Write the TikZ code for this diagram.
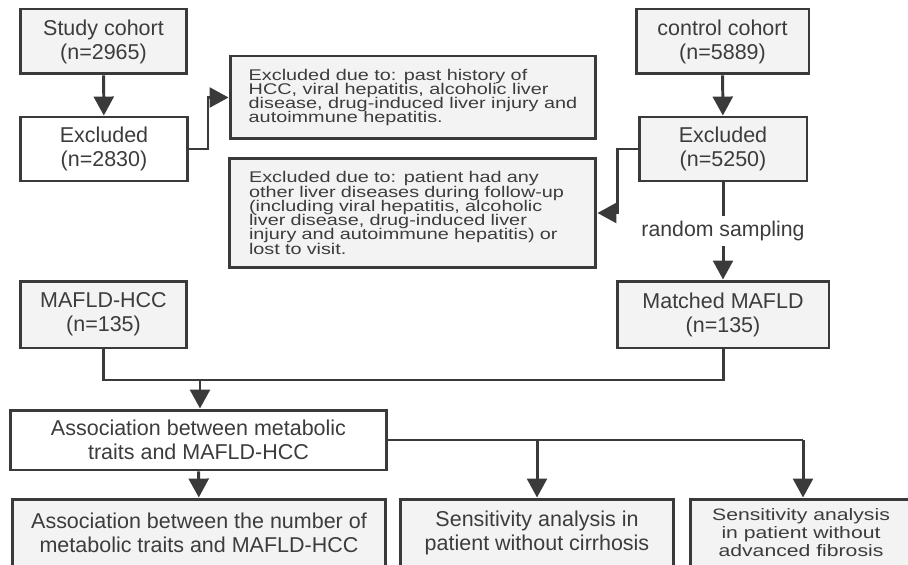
\documentclass[tikz,border=0pt]{standalone}
\usepackage{fontspec}
\setmainfont{Liberation Sans}
\newfontfamily\wideface[FakeStretch=1.28]{Liberation Sans}
\usepackage{tikz}
\usetikzlibrary{arrows.meta}
\definecolor{linegray}{RGB}{58,58,58}
\definecolor{boxgray}{RGB}{243,243,243}
\definecolor{textgray}{RGB}{60,60,60}

\begin{document}
\begin{tikzpicture}[x=0.02cm, y=-0.02cm,
    box/.style={draw=linegray, line width=1.7pt, fill=boxgray, text=textgray, inner sep=0pt, align=center, font={\fontsize{12.23pt}{13.66pt}\selectfont}},
    plainbox/.style={box, fill=white},
    notebox/.style={box, align=left, font={\wideface\fontsize{8.82pt}{8.14pt}\selectfont\lineskiplimit=-5pt}},
    link/.style={draw=linegray, line width=1.7pt},
    arr/.style={link, -{Triangle[width=11.3pt, length=10.8pt]}}]
    \useasboundingbox (0,0) rectangle (908,564);
    \clip (0,0) rectangle (908,564);

    \node[box, minimum width=3.34cm, minimum height=1.30cm] (study) at (103.5,41.5) {Study cohort\\(n=2965)};
    \node[plainbox, minimum width=3.36cm, minimum height=1.28cm] (exclA) at (104,149) {Excluded\\(n=2830)};
    \node[box, minimum width=3.46cm, minimum height=1.30cm] (ctrl) at (722.5,41.5) {control cohort\\(n=5889)};
    \node[box, minimum width=3.36cm, minimum height=1.28cm] (exclB) at (723,149) {Excluded\\(n=5250)};
    \node[notebox, minimum width=7.32cm, minimum height=1.66cm] (noteA) at (413,97.5) {Excluded due to: past history of\\HCC, viral hepatitis, alcoholic liver\\disease, drug-induced liver injury and\\autoimmune hepatitis.};
    \node[notebox, text width=6.54cm, inner xsep=0.4cm, minimum height=2.20cm] (noteB) at (412.5,213) {Excluded due to: patient had any\\other liver diseases during follow-up\\(including viral hepatitis, alcoholic\\liver disease, drug-induced liver\\injury and autoimmune hepatitis) or\\lost to visit.};
    \node[text=textgray, inner sep=0.1cm, font={\fontsize{12.1pt}{13.66pt}\selectfont}] (sampling) at (723,231) {random sampling};
    \node[box, minimum width=3.34cm, minimum height=1.34cm] (hcc) at (103.5,314.5) {MAFLD-HCC\\(n=135)};
    \node[box, minimum width=4.24cm, minimum height=1.34cm] (matched) at (723,314.5) {Matched MAFLD\\(n=135)};
    \node[plainbox, minimum width=7.54cm, minimum height=1.20cm] (assoc) at (198.5,440) {Association between metabolic\\traits and MAFLD-HCC};
    \node[box, minimum width=7.48cm, minimum height=1.36cm] (numtraits) at (199,533) {Association between the number of\\metabolic traits and MAFLD-HCC};
    \node[box, minimum width=5.48cm, minimum height=1.36cm] (nocirr) at (537,533) {Sensitivity analysis in\\patient without cirrhosis};
    \node[box, minimum width=4.44cm, minimum height=1.36cm, font={\wideface\fontsize{9.42pt}{10.24pt}\selectfont}] (nofib) at (801,533) {Sensitivity analysis\\in patient without\\advanced fibrosis};

    \coordinate (bendA) at (208,149);
    \coordinate (bendB) at (617,149);
    \coordinate (merge) at (200,380);
    \coordinate (split) at (803,440);

    \draw[arr] (study) -- (exclA);
    \draw[arr] (ctrl) -- (exclB);
    \draw[arr] (exclA.east) -- (bendA) |- (noteA.west);
    \draw[arr] (exclB.west) -- (bendB) |- (noteB.east);
    \draw[link] (exclB) -- (sampling);
    \draw[arr] (sampling) -- (matched);
    \draw[link] (hcc.south) |- (merge) -| (matched.south);
    \draw[arr] (merge) -- (merge |- assoc.north);
    \draw[arr] (assoc) -- (numtraits);
    \draw[link] (assoc.east) -- (split);
    \draw[arr] (split) -- (split |- nofib.north);
    \draw[arr] (assoc.east -| nocirr.north) -- (nocirr.north);

\end{tikzpicture}
\end{document}
